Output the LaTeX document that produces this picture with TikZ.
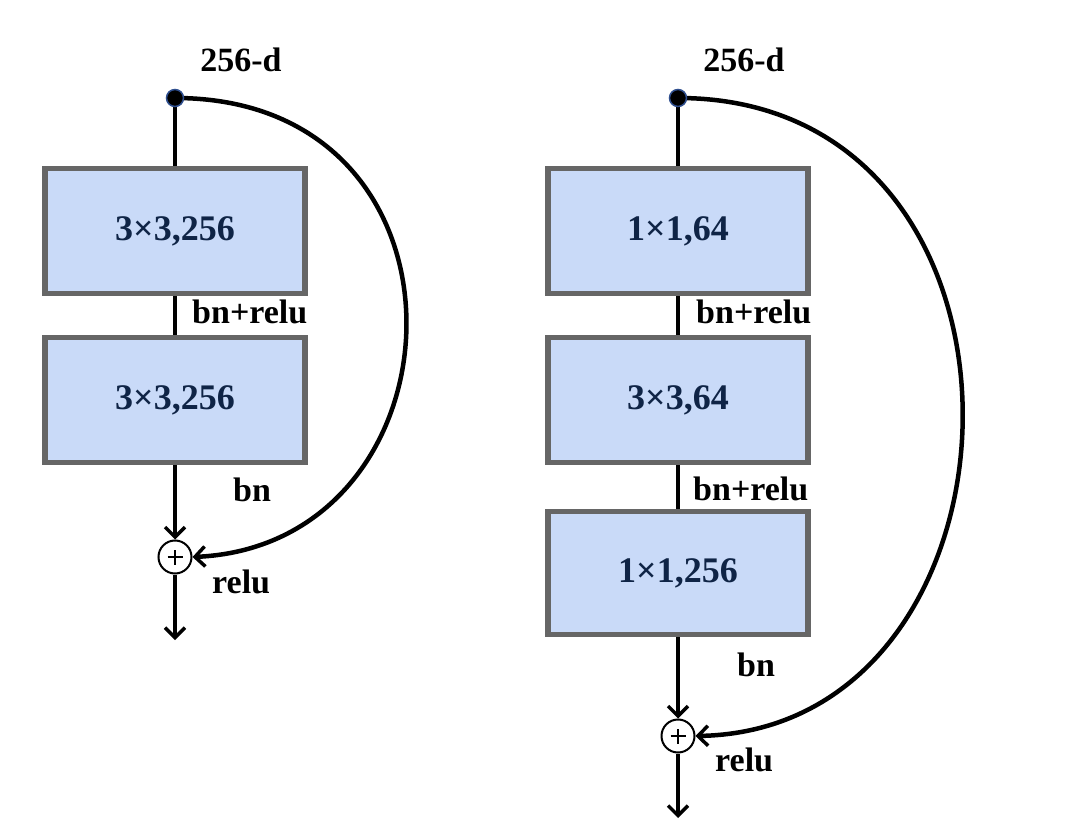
\documentclass[tikz,border=0pt]{standalone}
\usepackage{fontspec}
\setmainfont{Liberation Serif}
\usetikzlibrary{arrows.meta}
\definecolor{boxfill}{HTML}{C9DAF8}
\definecolor{boxdraw}{HTML}{666666}
\definecolor{boxtext}{HTML}{0F2446}
\definecolor{dotrim}{HTML}{2F4F8F}
\tikzset{
  blk/.style={draw=boxdraw, line width=5.5pt, fill=boxfill, minimum width=260pt, minimum height=125pt, inner sep=0pt, text=boxtext, font=\fontsize{36}{40}\selectfont\bfseries},
  lbl/.style={font=\fontsize{34}{40}\selectfont\bfseries, inner sep=0pt, anchor=base west},
  hdr/.style={font=\fontsize{34}{40}\selectfont\bfseries, inner sep=0pt, anchor=base},
  srcdot/.style={circle, fill=black, draw=dotrim, line width=1.5pt, minimum size=17pt, inner sep=0pt},
  sumnode/.style={circle, draw=black, fill=white, line width=2pt, minimum size=33pt, inner sep=0pt,
    path picture={\draw[line width=2.4pt] ([xshift=-7.5pt]path picture bounding box.center) -- ([xshift=7.5pt]path picture bounding box.center);
                  \draw[line width=2.4pt] ([yshift=-7.5pt]path picture bounding box.center) -- ([yshift=7.5pt]path picture bounding box.center);}},
  flow/.style={line width=4.5pt},
  flowarr/.style={line width=4.5pt, -{Straight Barb[length=10pt,width=20pt,line width=3.5pt]}},
}
\begin{document}
\begin{tikzpicture}[x=1pt,y=-1pt]
\useasboundingbox (0,0) rectangle (1074,834);
% left block
\node[hdr] (hL) at (241,72) {256-d};
\node[blk] (L1) at (175,231) {3×3,256};
\node[blk] (L2) at (175,400) {3×3,256};
\node[sumnode] (sL) at (175,557) {};
\coordinate (oL) at (175,640);
\draw[flow] (175,98) -- (L1.north);
\draw[flow] (L1.south) -- (L2.north);
\draw[flowarr] (L2.south) -- (sL.north);
\draw[flowarr] (sL.south) -- (oL);
\draw[flowarr] (175,98) .. controls (490,98) and (470,545) .. (sL.east);
\node[srcdot] (dL) at (175,98) {};
\node[lbl] (l1) at (192,324) {bn+relu};
\node[lbl] (l2) at (233,501) {bn};
\node[lbl] (l3) at (212,593) {relu};
% right block
\node[hdr] (hR) at (744,72) {256-d};
\node[blk] (R1) at (678,231) {1×1,64};
\node[blk] (R2) at (678,400) {3×3,64};
\node[blk, minimum height=123pt] (R3) at (678,573) {1×1,256};
\node[sumnode] (sR) at (678,736) {};
\coordinate (oR) at (678,818);
\draw[flow] (678,98) -- (R1.north);
\draw[flow] (R1.south) -- (R2.north);
\draw[flow] (R2.south) -- (R3.north);
\draw[flowarr] (R3.south) -- (sR.north);
\draw[flowarr] (sR.south) -- (oR);
\draw[flowarr] (678,98) .. controls (1064,98) and (1044,730) .. (sR.east);
\node[srcdot] (dR) at (678,98) {};
\node[lbl] (r1) at (696,324) {bn+relu};
\node[lbl] (r2) at (693,500) {bn+relu};
\node[lbl] (r3) at (737,676) {bn};
\node[lbl] (r4) at (715,771) {relu};
\end{tikzpicture}
\end{document}
